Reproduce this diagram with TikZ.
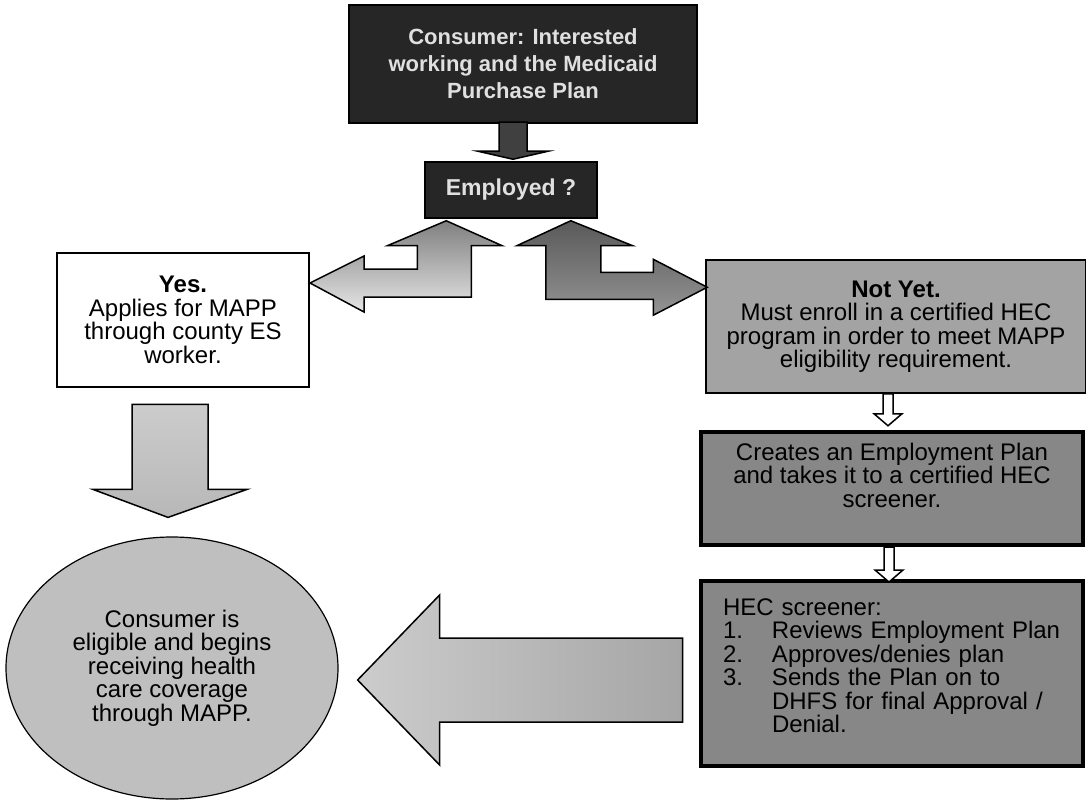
\documentclass[tikz,border=0pt]{standalone}
\usepackage{fontspec}
\setmainfont{Liberation Sans}
\usepackage{xcolor}
\usetikzlibrary{shapes.geometric,calc}

\tikzset{
  darkbox/.style={draw=black, line width=1.5pt, fill=black!85, text=white!88!black,
    font=\bfseries\fontsize{22}{27}\selectfont, align=center, inner sep=0pt},
  greybox/.style={draw=black, line width=1.5pt, fill=black!36,
    font=\fontsize{24}{23.5}\selectfont, align=center, inner sep=0pt},
  heavybox/.style={draw=black, line width=4pt, fill=black!47,
    font=\fontsize{24}{23.5}\selectfont, inner sep=0pt},
  whitebox/.style={draw=black, line width=2pt, fill=white,
    font=\fontsize{24}{23.5}\selectfont, align=center, inner sep=0pt},
  blockarrow/.style={draw=black, line width=1.5pt, line join=miter}
}

\begin{document}
\begin{tikzpicture}[x=1pt, y=-1pt]
\useasboundingbox (0,0) rectangle (1086,802);

	%the boxes, placed at pixel coordinates of the chart
\node [darkbox, minimum width=348pt, minimum height=118pt] (consumer) at (523,64) {Consumer: Interested\\working and the Medicaid\\Purchase Plan};
\node [darkbox, font=\bfseries\fontsize{23}{27}\selectfont, minimum width=172pt, minimum height=56pt] (employed) at (511,190) {Employed ?};
\node [whitebox, minimum width=252pt, minimum height=134pt] (yes) at (183,320) {\textbf{Yes.}\\Applies for MAPP\\through county ES\\worker.};
\node [greybox, minimum width=380pt, minimum height=133pt] (notyet) at (896,326.5) {\textbf{Not Yet.}\\Must enroll in a certified HEC\\program in order to meet MAPP\\eligibility requirement.};
	%empty last lines lift the text towards the top of the box
\node [heavybox, align=center, minimum width=382pt, minimum height=113pt] (creates) at (892,488.5) {Creates an Employment Plan\\and takes it to a certified HEC\\screener.\\[3pt]\mbox{}};
\node [heavybox, align=left, text width=338pt, minimum width=382pt, minimum height=185pt] (hec) at (892,673.5) {HEC screener:\\
  \makebox[49pt][l]{1.}Reviews Employment Plan\\
  \makebox[49pt][l]{2.}Approves/denies plan\\
  \makebox[49pt][l]{3.}Sends the Plan on to\\
  \hspace*{49pt}DHFS for final Approval /\\
  \hspace*{49pt}Denial.\\[-8pt]\mbox{}};
\node [ellipse, draw, line width=1.2pt, fill=black!25, font=\fontsize{24}{23.5}\selectfont, align=center, inner sep=0pt, minimum width=332pt, minimum height=262pt] (done) at (172,668) {Consumer is\\eligible and begins\\receiving health\\care coverage\\through MAPP.};

	%tips of the block arrows
\coordinate (ctip) at ($(employed.north)+(2,-2)$);
\coordinate (lup) at ($(employed.south west)+(22,2)$);
\coordinate (lleft) at ($(yes.north east)+(0,31)$);
\coordinate (rup) at ($(employed.south east)+(-27,2)$);
\coordinate (rright) at ($(notyet.north west)+(2,28)$);
\coordinate (ntip) at ($(notyet.south)+(-8,32)$);
\coordinate (stip) at ($(creates.south)+(-3,35)$);
\coordinate (dtip) at ($(done.north)+(-4,-19)$);
\coordinate (btip) at ($(done.east)+(19,12)$);

	%consumer down to employed
\draw [blockarrow, fill=black!75] (ctip) -- ++(35,-8) -- ++(-21,0) -- ++(0,-29) -- ++(-28,0) -- ++(0,29) -- ++(-21,0) -- cycle;

	%bent arrows out of employed
\draw [blockarrow, top color=black!50, bottom color=black!10] (lup) -- ++(56,25) -- ++(-31,0) |- ($(lleft)+(54,14)$) -- ++(0,15) -- (lleft) -- ++(54,-27) -- ++(0,13) -| ($(lup)+(-29,25)$) -- ++(-30,0) -- cycle;
\draw [blockarrow, top color=black!65, bottom color=black!42] (rup) -- ++(62,25) -- ++(-32,0) |- ($(rright)+(-54,-15)$) -- ++(0,-13) -- (rright) -- ++(-54,28) -- ++(0,-16) -| ($(rup)+(-25,25)$) -- ++(-29,0) -- cycle;

	%small hollow arrows down the right column
\draw [blockarrow, fill=white] (ntip) -- ++(14,-12) -- ++(-9,0) -- ++(0,-20) -- ++(-10,0) -- ++(0,20) -- ++(-9,0) -- cycle;
\draw [blockarrow, fill=white] (stip) -- ++(14,-12) -- ++(-9,0) -- ++(0,-23) -- ++(-10,0) -- ++(0,23) -- ++(-9,0) -- cycle;

	%big arrows into the circle
\draw [blockarrow, top color=black!20, bottom color=black!28] (dtip) -- ++(79,-28) -- ++(-39,0) -- ++(0,-85) -- ++(-76,0) -- ++(0,85) -- ++(-39,0) -- cycle;
\draw [blockarrow, left color=black!20, right color=black!35] (btip) -- ++(82,-85) -- ++(0,43) -- ++(243,0) -- ++(0,84) -- ++(-243,0) -- ++(0,43) -- cycle;

\end{tikzpicture}
\end{document}
